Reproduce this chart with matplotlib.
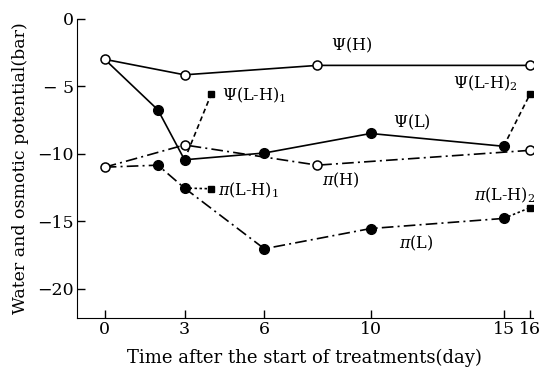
import matplotlib
matplotlib.use("Agg")
from matplotlib import pyplot as plt

plt.rcParams['font.family'] = ['DejaVu Serif']
plt.rcParams['mathtext.fontset'] = 'dejavuserif'

# water potential (solid lines)
psi_h_day = [0, 3, 8, 16]
psi_h_val = [-3.0, -4.15, -3.45, -3.45]
psi_l_day = [0, 2, 3, 6, 10, 15]
psi_l_val = [-3.0, -6.75, -10.45, -9.95, -8.5, -9.45]
psi_lh1_day = [3, 4]
psi_lh1_val = [-10.45, -5.6]
psi_lh2_day = [15, 16]
psi_lh2_val = [-9.45, -5.55]

# osmotic potential (dash-dot lines)
pi_h_day = [0, 3, 8, 16]
pi_h_val = [-11.0, -9.35, -10.85, -9.75]
pi_l_day = [0, 2, 3, 6, 10, 15]
pi_l_val = [-11.0, -10.85, -12.55, -17.05, -15.55, -14.8]
pi_lh1_day = [3, 4]
pi_lh1_val = [-12.55, -12.6]
pi_lh2_day = [15, 16]
pi_lh2_val = [-14.8, -14.0]

xticks = [0, 3, 6, 10, 15, 16]
yticks = [0, -5, -10, -15, -20]

fig = plt.figure(figsize=(5.41, 3.70), dpi=100)
ax = fig.add_axes([0.142, 0.140, 0.843, 0.809])

dashdot = (0, (7, 2.5, 1.2, 2.5))
k = 'black'

# lines first, markers on top
ax.plot(psi_lh1_day, psi_lh1_val, color=k, lw=1.2, ls=(0, (3, 2)))
ax.plot(psi_lh2_day, psi_lh2_val, color=k, lw=1.2, ls=(0, (3, 2)))
ax.plot(pi_lh1_day, pi_lh1_val, color=k, lw=1.2, ls=(0, (1.5, 1.5)))
ax.plot(pi_lh2_day, pi_lh2_val, color=k, lw=1.2, ls=(0, (1.5, 1.5)))
ax.plot(psi_lh1_day[1:], psi_lh1_val[1:], 's', color=k, ms=5)
ax.plot(psi_lh2_day[1:], psi_lh2_val[1:], 's', color=k, ms=5)
ax.plot(pi_lh1_day[1:], pi_lh1_val[1:], 's', color=k, ms=5)
ax.plot(pi_lh2_day[1:], pi_lh2_val[1:], 's', color=k, ms=5)

ax.plot(pi_l_day, pi_l_val, color=k, lw=1.2, ls=dashdot)
ax.plot(pi_l_day[1:], pi_l_val[1:], 'o', color=k, ms=7)
ax.plot(pi_h_day, pi_h_val, color=k, lw=1.2, ls=dashdot, marker='o',
        mfc='white', mec=k, ms=6.5, mew=1.1)

ax.plot(psi_l_day, psi_l_val, color=k, lw=1.2)
ax.plot(psi_l_day[1:], psi_l_val[1:], 'o', color=k, ms=7)
ax.plot(psi_h_day, psi_h_val, color=k, lw=1.2, marker='o',
        mfc='white', mec=k, ms=6.5, mew=1.1)

fs = 11.5
ax.text(9.3, -1.95, r'$\Psi$(H)', fontsize=fs, ha='center', va='center')
ax.text(4.4, -5.7, r'$\Psi$(L-H)$_1$', fontsize=fs, ha='left', va='center')
ax.text(13.1, -4.75, r'$\Psi$(L-H)$_2$', fontsize=fs, ha='left', va='center')
ax.text(10.85, -7.65, r'$\Psi$(L)', fontsize=fs, ha='left', va='center')
ax.text(8.9, -12.0, r'$\pi$(H)', fontsize=fs, ha='center', va='center')
ax.text(4.25, -12.7, r'$\pi$(L-H)$_1$', fontsize=fs, ha='left', va='center')
ax.text(13.9, -13.1, r'$\pi$(L-H)$_2$', fontsize=fs, ha='left', va='center')
ax.text(11.7, -16.65, r'$\pi$(L)', fontsize=fs, ha='center', va='center')

ax.set_xlim(-1.05, 16.1)
ax.set_ylim(-22.2, 0)
ax.set_xticks(xticks)
ax.set_yticks(yticks)
ax.set_yticklabels(['0', '\u2212 5', '\u221210', '\u221215', '\u221220'])
ax.tick_params(direction='in', length=6, width=1, labelsize=12.5, pad=2)
ax.spines['top'].set_visible(False)
ax.spines['right'].set_visible(False)

ax.set_xlabel('Time after the start of treatments(day)', fontsize=13, labelpad=8)
ax.set_ylabel('Water and osmotic potential(bar)', fontsize=12.5, labelpad=6)

fig.savefig('out.png', dpi=100)
